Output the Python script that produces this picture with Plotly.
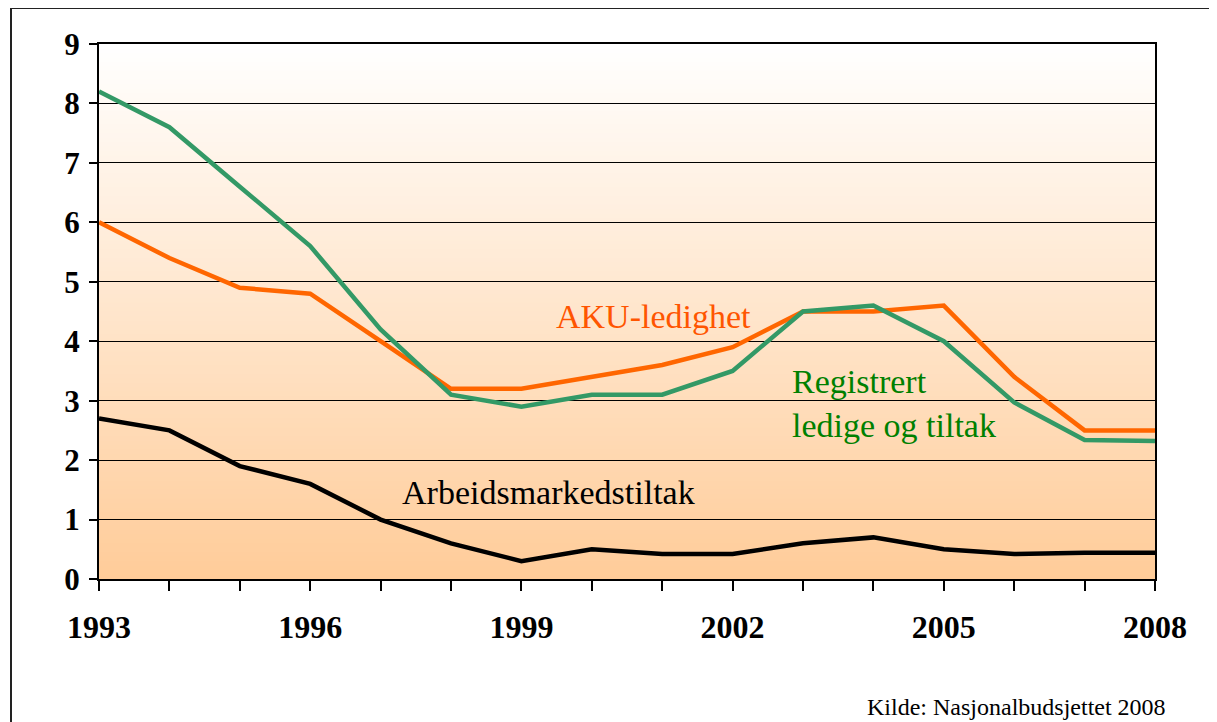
import plotly.graph_objects as go

years = list(range(1993, 2009))
aku = [6.0, 5.4, 4.9, 4.8, 4.0, 3.2, 3.2, 3.4, 3.6, 3.9, 4.5, 4.5, 4.6, 3.4, 2.5, 2.5]
registrert = [8.2, 7.6, 6.6, 5.6, 4.2, 3.1, 2.9, 3.1, 3.1, 3.5, 4.5, 4.6, 4.0, 2.97, 2.34, 2.32]
tiltak = [2.7, 2.5, 1.9, 1.6, 1.0, 0.6, 0.3, 0.5, 0.42, 0.42, 0.6, 0.7, 0.5, 0.42, 0.44, 0.44]
x_labels = ["1993", "1996", "1999", "2002", "2005", "2008"]
y_ticks = list(range(0, 10))

OFF = 8  # page body margin
W, H = 1217 - OFF, 722 - OFF
L, T = 99 - OFF, 44 - OFF
R = W - (1155 - OFF)
B = H - (579 - OFF)
PW, PH = W - L - R, H - T - B


def px(x):
    return (x - OFF - L) / PW


def py(y):
    return (H - B - (y - OFF)) / PH


SERIF = "Liberation Serif, Times New Roman, serif"

fig = go.Figure()

fig.add_trace(go.Scatter(x=years, y=aku, mode="lines", name="AKU-ledighet",
                         line=dict(color="#FF6600", width=4.5)))
fig.add_trace(go.Scatter(x=years, y=registrert, mode="lines", name="Registrert ledige og tiltak",
                         line=dict(color="#339966", width=4.5)))
fig.add_trace(go.Scatter(x=years, y=tiltak, mode="lines", name="Arbeidsmarkedstiltak",
                         line=dict(color="#000000", width=4.5)))

# gradient background (white at top -> light orange at bottom)
shapes = []
n = 120
top_c = (255, 255, 255)
bot_c = (255, 204, 153)
ymax = 9
for i in range(n):
    y0 = ymax * i / n
    y1 = min(ymax, ymax * (i + 1) / n + 0.03)
    f = 1 - (i + 0.5) / n  # 1 at bottom, 0 at top
    c = tuple(round(top_c[k] + (bot_c[k] - top_c[k]) * f) for k in range(3))
    shapes.append(dict(type="rect", xref="x", yref="y", x0=1993, x1=2008, y0=y0, y1=y1,
                       fillcolor="rgb(%d,%d,%d)" % c, line=dict(width=0), layer="below"))

# outer frame
shapes.append(dict(type="rect", xref="paper", yref="paper",
                   x0=px(11), x1=px(1240), y0=py(760), y1=py(8),
                   line=dict(color="#222222", width=2), fillcolor="rgba(0,0,0,0)", layer="above"))

tickvals = years
ticktext = [str(y) if str(y) in x_labels else "" for y in years]

fig.update_layout(
    width=W, height=H,
    margin=dict(l=L, r=R, t=T, b=B, pad=0),
    paper_bgcolor="white",
    plot_bgcolor="white",
    showlegend=False,
    shapes=shapes,
    font=dict(family=SERIF, color="black"),
    xaxis=dict(range=[1993, 2008], tickvals=tickvals, ticktext=ticktext,
               showgrid=False, zeroline=False,
               showline=True, linecolor="black", linewidth=2, mirror=True,
               ticks="outside", ticklen=10, tickwidth=2, tickcolor="black",
               ticklabelstandoff=9,
               tickfont=dict(family=SERIF, size=32, color="black", weight="bold")),
    yaxis=dict(range=[0, 9], tickvals=y_ticks,
               showgrid=True, gridcolor="black", gridwidth=1, zeroline=False,
               showline=True, linecolor="black", linewidth=2, mirror=True,
               ticks="outside", ticklen=8, tickwidth=1.5, tickcolor="black",
               ticklabelstandoff=3,
               tickfont=dict(family=SERIF, size=31, color="black", weight="bold")),
    annotations=[
        dict(x=1999.47, y=4.42, xref="x", yref="y", text="AKU-ledighet", showarrow=False,
             xanchor="left", yanchor="middle",
             font=dict(family=SERIF, size=34, color="#FF5500")),
        dict(x=2002.81, y=2.96, xref="x", yref="y", text="Registrert<br>ledige og tiltak", showarrow=False,
             xanchor="left", yanchor="middle", align="left",
             font=dict(family=SERIF, size=34, color="#008000")),
        dict(x=1997.27, y=1.46, xref="x", yref="y", text="Arbeidsmarkedstiltak", showarrow=False,
             xanchor="left", yanchor="middle",
             font=dict(family=SERIF, size=34, color="black")),
        dict(x=px(1168), y=py(707), xref="paper", yref="paper", text="Kilde: Nasjonalbudsjettet 2008",
             showarrow=False, xanchor="right", yanchor="middle",
             font=dict(family=SERIF, size=24, color="black")),
    ],
)

fig.write_html("out.html")
